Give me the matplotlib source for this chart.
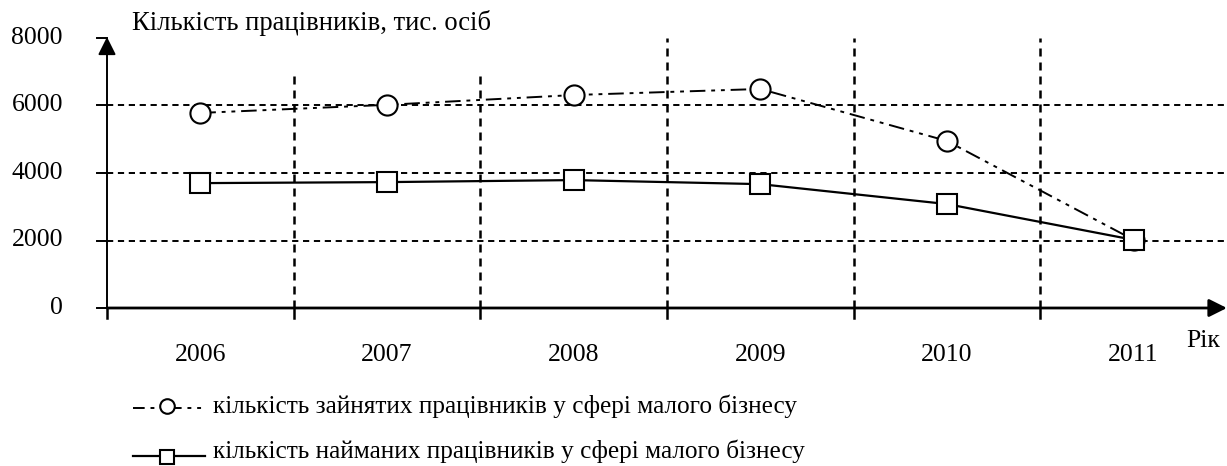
import matplotlib
matplotlib.use("Agg")
import matplotlib.pyplot as plt
from matplotlib.lines import Line2D

plt.rcParams['font.family'] = ['Liberation Serif', 'DejaVu Serif']

years = ['2006', '2007', '2008', '2009', '2010', '2011']
employed = [5780, 6020, 6310, 6490, 4950, 2020]
hired = [3700, 3730, 3790, 3670, 3080, 2020]
yticks = [0, 2000, 4000, 6000, 8000]
title = 'Кількість працівників, тис. осіб'
xlabel = 'Рік'
legend_labels = ['кількість зайнятих працівників у сфері малого бізнесу',
                 'кількість найманих працівників у сфері малого бізнесу']

W, H = 1227, 466
fig = plt.figure(figsize=(W / 100, H / 100), dpi=100)
x0, x1 = 107, 1225
ytop, ybot = 38, 308
ax = fig.add_axes([x0 / W, (H - ybot) / H, (x1 - x0) / W, (ybot - ytop) / H])
ax.set_xlim(-0.5, 5.49)
ax.set_ylim(0, 8000)
for s in ax.spines.values():
    s.set_visible(False)
ax.set_xticks([])
ax.set_yticks([])
ax.patch.set_alpha(0)

xs = list(range(len(years)))
fs = 18.5
dash = (0, (3.2, 2.4))

# horizontal grid
for v in yticks[1:-1]:
    ax.plot([-0.5, 5.49], [v, v], color='black', lw=1.4, linestyle=dash, zorder=1)
# vertical grid at category boundaries
for i in range(len(years) - 1):
    b = i + 0.5
    top = 7000 if i < 2 else 8000
    ax.plot([b, b], [0, top], color='black', lw=1.8, linestyle=dash, zorder=1)

# axes lines with arrows
ax.annotate('', xy=(5.50, 0), xytext=(-0.5, 0), xycoords='data',
            arrowprops=dict(arrowstyle='-|>', color='black', lw=2.0,
                            mutation_scale=27, shrinkA=0, shrinkB=0),
            annotation_clip=False, zorder=3)
ax.annotate('', xy=(-0.5, 8030), xytext=(-0.5, 0), xycoords='data',
            arrowprops=dict(arrowstyle='-|>', color='black', lw=1.4,
                            mutation_scale=27, shrinkA=0, shrinkB=0),
            annotation_clip=False, zorder=3)

# y ticks (outward to left)
trans_y = ax.get_yaxis_transform()
for v in yticks:
    ax.plot([-10 / (x1 - x0), 0], [v, v], transform=trans_y, color='black',
            lw=1.4, clip_on=False, zorder=3)
    ax.text(-44 / (x1 - x0), v, str(v), transform=trans_y, ha='right',
            va='center', fontsize=fs)
# x ticks (downward) at boundaries
trans_x = ax.get_xaxis_transform()
for i in range(len(years)):
    b = i - 0.5
    ax.plot([b, b], [0, -10 / (ybot - ytop)], transform=trans_x, color='black',
            lw=1.8, clip_on=False, zorder=3)
for i, y in enumerate(years):
    ax.text(i, -47 / (ybot - ytop), y, transform=trans_x, ha='center',
            va='center', fontsize=fs)

# series
ax.plot(xs, employed, color='black', lw=1.4, linestyle=(0, (8, 3, 2, 3, 2, 3)),
        marker='o', markersize=14.5, markerfacecolor='white',
        markeredgecolor='black', markeredgewidth=1.5, zorder=4, clip_on=False)
ax.plot(xs, hired, color='black', lw=1.6, linestyle='-',
        marker='s', markersize=14.5, markerfacecolor='white',
        markeredgecolor='black', markeredgewidth=1.5, zorder=5, clip_on=False)

fig.text(132 / W, 1 - 23 / H, title, ha='left', va='center', fontsize=19.2)
fig.text(1186 / W, 1 - 341 / H, xlabel, ha='left', va='center', fontsize=fs)

# legend drawn manually
lfs = 18.2
ly1, ly2 = 1 - 406 / H, 1 - 451 / H
fig.add_artist(Line2D([133 / W, 205 / W], [1 - 408 / H, 1 - 408 / H], color='black', lw=1.4,
                      linestyle=(0, (6, 3, 2, 3, 2, 3))))
fig.add_artist(Line2D([167 / W], [1 - 406 / H], marker='o', markersize=10.5,
                      markerfacecolor='white', markeredgecolor='black',
                      markeredgewidth=1.5, linestyle='none'))
fig.add_artist(Line2D([133 / W, 205 / W], [1 - 456 / H, 1 - 456 / H], color='black', lw=1.6))
fig.add_artist(Line2D([167 / W], [1 - 457 / H], marker='s', markersize=10.5,
                      markerfacecolor='white', markeredgecolor='black',
                      markeredgewidth=1.5, linestyle='none'))
fig.text(213 / W, ly1, legend_labels[0], ha='left', va='center', fontsize=lfs)
fig.text(213 / W, ly2, legend_labels[1], ha='left', va='center', fontsize=lfs)

fig.savefig('out.png', dpi=100)
